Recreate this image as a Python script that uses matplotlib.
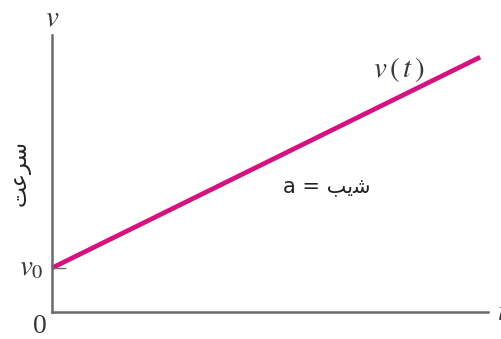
import numpy as np
import matplotlib
matplotlib.use("Agg")
import matplotlib.pyplot as plt

plt.rcParams['mathtext.fontset'] = 'stix'

# datos de la recta v(t) = v0 + a t
t_vals = [0.0, 9.82]
v_vals = [1.59, 9.2]

# etiquetas (persa en formas de presentación, orden visual)
y_label = "\uFE96\uFECB\uFEAE\uFEB3"          # سرعت
slope_label = "a = \uFE90\uFBFE\uFEB7"         # شیب = a
line_label = r"$v\,(\,t\,)$"
v0_label = r"$v_0$"

TXT = '#3a3a3a'

fig = plt.figure(figsize=(5.02, 3.39), dpi=100)
ax = fig.add_axes([52 / 502, 27 / 339, 436 / 502, 277 / 339])
ax.set_xlim(0, 10)
ax.set_ylim(0, 10)
ax.patch.set_alpha(0)

for side in ['top', 'right']:
    ax.spines[side].set_visible(False)
for side in ['left', 'bottom']:
    ax.spines[side].set_color('#6a6a6a')
    ax.spines[side].set_linewidth(1.8)
ax.set_xticks([])
ax.set_yticks([])

ax.plot(t_vals, v_vals, color='#d4137f', lw=3.4, solid_capstyle='butt', clip_on=False)
ax.plot([0, 0.3], [v_vals[0], v_vals[0]], color='#6a6a6a', lw=1.0)

# textos
ax.text(0, 10.36, r"$v$", fontsize=21, ha='center', va='baseline', color=TXT)
ax.text(10.2, 0, r"$t$", fontsize=21, ha='left', va='center', color=TXT)
ax.text(-0.28, -0.75, "0", fontsize=20, ha='center', va='baseline',
        family='Liberation Serif', color=TXT)
ax.text(-0.18, 1.34, v0_label, fontsize=21, ha='right', va='baseline', color=TXT)
ax.text(7.95, 8.75, line_label, fontsize=21, ha='center', va='center', color=TXT)
ax.text(6.31, 4.51, slope_label, fontsize=15, ha='center', va='center',
        family='DejaVu Sans', color='#222222')
ax.text(-0.71, 5.02, y_label, fontsize=16, rotation=90, ha='center', va='center',
        family='DejaVu Sans', color='#222222')

fig.savefig("out.png", dpi=100)
